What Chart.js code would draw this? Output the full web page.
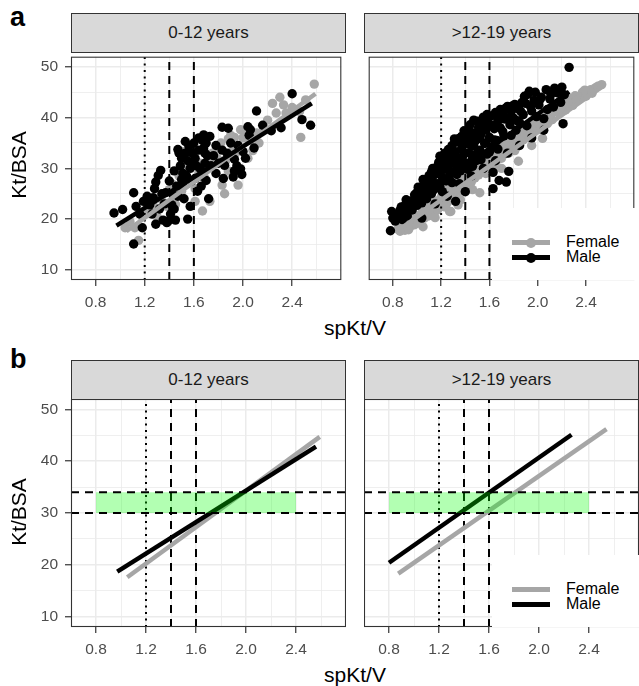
<!DOCTYPE html>
<html>
<head>
<meta charset="utf-8">
<script src="https://cdn.jsdelivr.net/npm/chart.js@4.4.1/dist/chart.umd.min.js"></script>
<style>
  body { margin: 0; width: 639px; height: 686px; overflow: hidden; background: #fff; position: relative;
         font-family: "Liberation Sans", Arial, sans-serif; }
  .abs { position: absolute; }
  .tag { position: absolute; font-weight: bold; font-size: 27px; color: #000; }
  .strip { position: absolute; width: 275px; height: 40px; background: #d9d9d9; border: 1px solid #333;
           box-sizing: border-box; text-align: center; line-height: 38px; font-size: 17px; color: #1a1a1a; }
  .xtitle { position: absolute; left: 71px; width: 568px; text-align: center; font-size: 21px; color: #000; }
  .ytitle { position: absolute; font-size: 21px; color: #000; width: 120px; text-align: center;
            transform: rotate(-90deg); }
  .legend { position: absolute; left: 492px; width: 147px; height: 72px; background: #fff; }
  .key { position: absolute; left: 20px; width: 38px; height: 5px; }
  .dot { position: absolute; left: 14px; top: -2.5px; width: 10px; height: 10px; border-radius: 50%; }
  .lab { position: absolute; left: 74px; font-size: 16px; color: #000; line-height: 16px; }
</style>
</head>
<body>

<div class="tag" style="left:10px; top:2px;">a</div>
<div class="tag" style="left:10px; top:344px;">b</div>

<div class="strip" style="left:71px; top:13px;">0-12 years</div>
<div class="strip" style="left:364px; top:13px;">&gt;12-19 years</div>
<div class="strip" style="left:71px; top:360px;">0-12 years</div>
<div class="strip" style="left:364px; top:360px;">&gt;12-19 years</div>

<canvas id="a1" class="abs" width="346" height="258" style="left:0; top:52px;"></canvas>
<canvas id="a2" class="abs" width="275" height="258" style="left:364px; top:52px;"></canvas>
<canvas id="b1" class="abs" width="346" height="258" style="left:0; top:399px;"></canvas>
<canvas id="b2" class="abs" width="275" height="258" style="left:364px; top:399px;"></canvas>

<div class="ytitle" style="left:-41px; top:153px;">Kt/BSA</div>
<div class="ytitle" style="left:-41px; top:500px;">Kt/BSA</div>
<div class="xtitle" style="top:316px;">spKt/V</div>
<div class="xtitle" style="top:663px;">spKt/V</div>

<div class="legend" style="top:208px;">
  <div class="key" style="top:32px; background:#a6a6a6;"><div class="dot" style="background:#a6a6a6;"></div></div>
  <div class="lab" style="top:26px;">Female</div>
  <div class="key" style="top:47px; background:#000;"><div class="dot" style="background:#000;"></div></div>
  <div class="lab" style="top:41px;">Male</div>
</div>
<div class="legend" style="top:555px;">
  <div class="key" style="top:32px; background:#a6a6a6;"></div>
  <div class="lab" style="top:26px;">Female</div>
  <div class="key" style="top:47px; background:#000;"></div>
  <div class="lab" style="top:41px;">Male</div>
</div>

<script>
// axis setup
const xMin = 0.6, xMax = 2.8, yMin = 8, yMax = 52;
const xGridLines = [0.8, 1.0, 1.2, 1.4, 1.6, 1.8, 2.0, 2.2, 2.4, 2.6];
const xMajor = [0.8, 1.2, 1.6, 2.0, 2.4];
const yGridLines = [10, 15, 20, 25, 30, 35, 40, 45, 50];
const yMajor = [10, 20, 30, 40, 50];

// reference lines and target band
const dottedX = [1.2];
const dashedX = [1.4, 1.6];
const bandY = [30, 34];
const bandX = [0.8, 2.4];

// fitted lines [x, y] end points
const fitChildMale = [[0.97, 18.7], [2.56, 42.8]];
const fitChildFemale = [[1.05, 17.6], [2.59, 44.7]];
const fitTeenMale = [[0.8, 20.4], [2.26, 45.1]];
const fitTeenFemale = [[0.874, 18.3], [2.54, 46.2]];

// observations 0-12 years
const childMale = [[0.95,21.2],[1.02,21.9],[1.11,25.2],[1.11,15.1],[1.13,22.5],[1.16,21.0],[1.18,18.3],[1.19,23.5],
  [1.21,23.5],[1.24,22.8],[1.26,21.0],[1.27,24.2],[1.29,19.0],[1.29,27.3],[1.31,28.6],[1.33,29.6],[1.34,25.0],
  [1.35,19.8],[1.37,25.2],[1.38,19.3],[1.39,19.6],[1.41,21.0],[1.42,22.8],[1.44,22.0],[1.45,19.8],[1.46,26.5],
  [1.47,33.7],[1.48,33.0],[1.49,30.5],[1.50,32.0],[1.51,29.0],[1.51,26.5],[1.52,24.0],[1.53,35.3],[1.55,31.5],
  [1.56,34.3],[1.58,27.5],[1.59,33.0],[1.59,31.0],[1.61,32.0],[1.61,28.0],[1.63,25.5],[1.64,33.6],[1.65,30.0],
  [1.67,35.5],[1.68,36.6],[1.69,33.0],[1.69,31.0],[1.70,35.0],[1.70,27.6],[1.72,24.0],[1.73,36.3],[1.76,32.5],
  [1.83,33.6],[1.83,38.1],[1.85,30.6],[1.88,37.9],[1.93,31.8],[1.93,29.5],[1.92,28.3],[1.98,29.9],[2.00,33.3],
  [2.02,32.0],[2.04,38.2],[2.06,37.6],[2.11,41.3],[2.23,37.4],[2.31,38.0],[2.40,44.7],[2.48,39.6],[2.55,38.5],
  [1.96,34.5],[1.78,29.0],[1.66,26.5],[1.57,22.5],[1.43,24.8],[1.55,20.0],
  [1.22,24.5],[1.28,26.0],[1.32,22.0],[1.36,23.0],[1.40,27.5],[1.44,29.5],[1.47,24.5],[1.50,27.8],[1.53,33.0],
  [1.54,28.5],[1.57,30.0],[1.60,35.0],[1.62,30.5],[1.64,36.0],[1.66,28.5],[1.68,34.0],[1.71,32.5],[1.74,30.5],
  [1.78,34.5],[1.80,31.0],[1.87,33.0],[1.90,35.0],[1.95,30.5],[2.05,36.5],[2.09,34.0],[2.16,38.5],[1.99,28.8],
  [1.84,28.0]];
const childFemale = [[1.04,18.3],[1.15,15.8],[1.12,18.3],[1.08,19.5],[1.22,22.0],[1.27,22.6],[1.30,20.5],[1.35,23.3],
  [1.40,25.8],[1.45,25.8],[1.45,22.9],[1.48,28.5],[1.51,29.7],[1.53,31.5],[1.51,33.3],[1.55,27.0],[1.59,33.0],
  [1.61,26.0],[1.61,23.5],[1.64,29.0],[1.67,21.6],[1.67,29.7],[1.70,31.0],[1.72,31.5],[1.73,23.5],[1.75,33.0],
  [1.77,31.0],[1.80,34.0],[1.83,26.7],[1.85,25.0],[1.88,29.5],[1.88,35.8],[1.88,32.8],[1.93,36.1],[1.96,26.7],
  [1.98,37.6],[2.02,36.5],[2.04,32.0],[2.08,33.5],[2.13,35.0],[2.17,37.6],[2.24,42.8],[2.27,40.9],[2.30,44.0],
  [2.35,40.9],[2.40,42.0],[2.46,41.2],[2.47,36.1],[2.51,43.5],[2.58,46.6],[1.62,33.5],[1.57,30.5],[1.92,34.0],
  [2.00,36.0],
  [1.18,20.5],[1.25,21.0],[1.33,24.5],[1.38,22.5],[1.42,27.0],[1.50,25.5],[1.54,28.5],[1.58,27.5],[1.65,31.0],
  [1.69,28.0],[1.74,30.5],[1.79,32.0],[1.82,35.0],[1.86,31.5],[1.90,36.5],[1.94,33.0],[2.06,35.5],[2.11,37.0],
  [2.20,39.5],[2.33,42.5]];

// observations >12-19 years
const teenMale = [[0.78,17.7],[0.79,21.5],[0.80,20.2],[0.82,19.6],[0.84,21.0],[0.85,20.3],[0.86,21.8],[0.88,19.9],
  [0.89,22.5],[0.90,21.2],[0.92,20.6],[0.93,22.9],[0.95,23.6],[0.96,21.8],[0.97,23.5],[0.98,24.8],[1.00,22.7],
  [1.00,25.3],[1.02,24.1],[1.03,26.0],[1.04,23.2],[1.05,25.4],[1.06,27.2],[1.07,24.6],[1.08,26.3],[1.09,28.0],
  [1.10,25.1],[1.10,28.6],[1.11,26.8],[1.12,29.3],[1.13,27.4],[1.14,25.8],[1.15,28.8],[1.16,30.2],[1.17,27.0],
  [1.18,31.2],[1.18,29.1],[1.19,26.4],[1.20,30.5],[1.21,28.2],[1.22,32.1],[1.23,29.8],[1.24,27.5],[1.25,31.4],
  [1.26,33.7],[1.26,30.0],[1.27,28.6],[1.28,32.6],[1.29,34.5],[1.30,31.1],[1.31,29.4],[1.32,33.3],[1.33,35.2],
  [1.34,31.8],[1.35,30.2],[1.36,36.0],[1.37,33.9],[1.37,36.3],[1.38,32.4],[1.39,34.8],[1.40,25.4],[1.40,37.2],
  [1.41,31.0],[1.42,35.6],[1.43,33.1],[1.44,38.6],[1.45,36.2],[1.46,32.0],[1.47,39.5],[1.47,34.4],[1.48,37.0],
  [1.49,31.5],[1.50,35.8],[1.51,38.1],[1.52,33.6],[1.53,36.7],[1.54,39.2],[1.55,40.1],[1.56,34.9],[1.57,37.6],
  [1.58,32.8],[1.59,38.9],[1.60,36.1],[1.61,40.3],[1.62,34.2],[1.63,26.0],[1.63,29.2],[1.64,37.8],[1.65,41.0],
  [1.66,35.5],[1.67,39.4],[1.68,27.6],[1.69,38.0],[1.70,41.5],[1.71,40.8],[1.72,36.4],[1.73,39.7],[1.74,27.3],
  [1.75,42.2],[1.76,29.4],[1.77,38.6],[1.78,41.2],[1.79,42.3],[1.80,39.9],[1.82,37.5],[1.83,41.8],[1.84,42.1],
  [1.85,39.0],[1.87,43.0],[1.88,40.6],[1.90,42.8],[1.91,38.4],[1.92,44.6],[1.93,45.2],[1.95,41.3],[1.97,43.4],
  [1.99,40.2],[2.01,42.5],[2.03,44.0],[2.05,39.8],[2.08,41.6],[2.10,43.7],[2.13,42.1],[2.16,44.9],[2.16,45.2],
  [2.19,43.0],[2.21,38.8],[2.22,44.5],[2.26,49.9],[1.04,20.2],[1.32,23.5],[1.15,23.0],[1.25,24.5],[1.35,27.0],
  [1.45,28.5],[1.55,30.0],[1.65,31.5],[1.85,34.5],[1.95,36.0],[2.05,37.5],[1.75,33.0],
  [0.83,20.8],[0.87,22.4],[0.91,23.8],[0.94,22.0],[0.99,23.9],[1.01,26.3],[1.05,27.8],[1.08,24.0],[1.12,25.0],
  [1.13,30.0],[1.16,26.2],[1.19,32.4],[1.21,25.4],[1.23,33.0],[1.27,31.5],[1.29,27.2],[1.31,35.8],[1.33,28.8],
  [1.34,35.8],[1.36,29.5],[1.38,30.8],[1.39,37.4],[1.42,29.8],[1.43,37.8],[1.44,34.7],[1.46,30.4],[1.48,35.3],
  [1.50,33.0],[1.50,39.3],[1.52,36.0],[1.53,31.7],[1.55,38.0],[1.57,35.0],[1.58,40.6],[1.60,33.2],[1.62,38.5],
  [1.64,35.6],[1.66,40.5],[1.67,33.8],[1.69,41.6],[1.71,37.3],[1.73,41.8],[1.76,40.0],[1.78,36.5],[1.81,42.6],
  [1.83,39.4],[1.86,41.2],[1.89,44.2],[1.94,42.2],[1.98,45.0],[2.02,43.6],[2.07,45.5],[2.11,44.6],[2.14,45.8],
  [2.20,46.0]];
const teenFemale = [[0.84,18.0],[0.86,17.6],[0.88,18.9],[0.90,17.8],[0.92,19.3],[0.94,18.4],[0.96,19.8],[0.98,18.9],
  [1.00,20.6],[1.02,19.6],[1.04,21.3],[1.06,20.2],[1.08,22.0],[1.10,21.0],[1.12,22.8],[1.14,21.7],[1.16,23.6],
  [1.18,22.4],[1.20,24.3],[1.22,23.0],[1.24,25.2],[1.25,23.2],[1.27,21.5],[1.28,24.8],[1.30,26.0],[1.31,24.2],
  [1.33,26.6],[1.34,22.8],[1.35,25.5],[1.37,27.4],[1.38,26.1],[1.40,28.0],[1.41,26.3],[1.43,28.6],[1.44,29.2],
  [1.45,27.3],[1.47,29.6],[1.48,28.1],[1.50,30.3],[1.51,28.7],[1.52,25.2],[1.53,31.0],[1.55,29.4],[1.56,31.6],
  [1.58,30.1],[1.59,32.2],[1.60,30.6],[1.62,32.8],[1.63,31.0],[1.65,33.2],[1.66,31.5],[1.68,34.0],[1.69,32.2],
  [1.71,34.5],[1.72,32.8],[1.74,35.1],[1.75,33.4],[1.77,35.7],[1.78,34.0],[1.80,36.3],[1.81,33.5],[1.83,36.9],
  [1.84,31.4],[1.86,37.4],[1.88,35.6],[1.90,38.1],[1.92,36.2],[1.94,38.8],[1.96,37.0],[1.98,39.4],[2.00,37.6],
  [2.02,40.0],[2.04,35.9],[2.06,40.6],[2.08,38.8],[2.10,41.3],[2.12,39.6],[2.15,42.0],[2.18,40.8],[2.20,43.0],
  [2.23,41.5],[2.26,43.8],[2.29,42.4],[2.31,44.3],[2.34,43.6],[2.37,45.0],[2.40,44.2],[2.44,45.5],[2.48,45.9],
  [2.53,46.5],[1.28,21.5],[1.05,18.5],[0.86,18.3],[1.15,20.3],[1.36,23.8],[1.46,25.8],[1.70,30.0],[1.95,34.5],
  [0.89,19.6],[0.93,17.9],[0.97,20.5],[1.01,19.2],[1.05,21.8],[1.09,20.6],[1.13,23.0],[1.17,21.8],[1.21,24.8],
  [1.23,22.4],[1.26,25.8],[1.29,23.8],[1.32,27.0],[1.36,26.8],[1.39,25.6],[1.42,29.0],[1.46,28.4],[1.49,29.0],
  [1.54,30.5],[1.57,29.0],[1.61,31.8],[1.64,30.0],[1.67,33.5],[1.70,32.0],[1.73,34.5],[1.76,33.0],[1.79,36.0],
  [1.82,34.8],[1.85,36.0],[1.89,37.0],[1.93,37.8],[1.97,38.2],[2.01,38.8],[2.05,39.8],[2.09,40.2],[2.14,41.2],
  [2.19,41.8],[2.25,42.8],[2.32,43.4],[2.39,45.4],[2.45,44.8],[2.50,46.2]];

const GREY = '#a6a6a6';
Chart.defaults.font.family = '"Liberation Sans", Arial, sans-serif';

const toXY = arr => arr.map(p => ({ x: p[0], y: p[1] }));

// draws the dark panel border on top of everything
const panelFrame = {
  id: 'panelFrame',
  afterDraw(chart) {
    const a = chart.chartArea, c = chart.ctx;
    c.save();
    c.strokeStyle = '#333';
    c.lineWidth = 1.1;
    c.strokeRect(a.left + 0.5, a.top + 0.5, a.right - a.left - 1, a.bottom - a.top - 1);
    c.restore();
  }
};

function makePanel(id, male, female, fitMale, fitFemale, showY, withPoints) {
  const ds = [];
  if (withPoints) {
    ds.push({ data: toXY(female), backgroundColor: GREY, pointRadius: 4.7, pointBorderWidth: 0, order: 6 });
    ds.push({ data: toXY(male), backgroundColor: '#000', pointRadius: 4.7, pointBorderWidth: 0, order: 5 });
  }
  dottedX.forEach(v => ds.push({ data: [{ x: v, y: yMin }, { x: v, y: yMax }], showLine: true, pointRadius: 0,
    borderColor: '#000', borderWidth: 2, borderDash: [2, 4.5], order: 4 }));
  dashedX.forEach(v => ds.push({ data: [{ x: v, y: yMin }, { x: v, y: yMax }], showLine: true, pointRadius: 0,
    borderColor: '#000', borderWidth: 2, borderDash: [8, 6], order: 4 }));
  ds.push({ data: toXY(fitFemale), showLine: true, pointRadius: 0, borderColor: GREY, borderWidth: 4.5, order: 3 });
  ds.push({ data: toXY(fitMale), showLine: true, pointRadius: 0, borderColor: '#000', borderWidth: 4.5, order: 2 });
  if (!withPoints) {
    ds.push({ data: [{ x: bandX[0], y: bandY[0] }, { x: bandX[1], y: bandY[0] }], showLine: true, pointRadius: 0,
      borderWidth: 0, fill: { value: bandY[1] }, backgroundColor: 'rgba(0,255,0,0.3)', order: 1 });
    bandY.forEach(v => ds.push({ data: [{ x: xMin, y: v }, { x: xMax, y: v }], showLine: true, pointRadius: 0,
      borderColor: '#000', borderWidth: 1.8, borderDash: [8, 6], order: 0 }));
  }

  new Chart(document.getElementById(id), {
    type: 'scatter',
    data: { datasets: ds },
    options: {
      responsive: false,
      animation: false,
      layout: { padding: 0 },
      plugins: { legend: { display: false }, tooltip: { enabled: false } },
      scales: {
        x: {
          type: 'linear', min: xMin, max: xMax,
          afterBuildTicks: s => { s.ticks = xGridLines.map(v => ({ value: v })); },
          afterFit: s => { s.height = 30; s.paddingLeft = 0; s.paddingRight = 0; s.paddingTop = 0; s.paddingBottom = 0; },
          border: { display: false },
          grid: {
            color: '#ebebeb',
            lineWidth: c => xMajor.includes(c.tick.value) ? 1.5 : 0.8,
            tickColor: c => xMajor.includes(c.tick.value) ? '#333' : 'rgba(0,0,0,0)',
            tickLength: 6, tickWidth: 1.2
          },
          ticks: {
            autoSkip: false, maxRotation: 0, padding: 7, color: '#4d4d4d', font: { size: 15.5 },
            callback: v => xMajor.includes(v) ? v.toFixed(1) : ''
          }
        },
        y: {
          type: 'linear', min: yMin, max: yMax,
          afterBuildTicks: s => { s.ticks = yGridLines.map(v => ({ value: v })); },
          afterFit: s => { s.width = showY ? 71 : 0; s.paddingTop = 0; s.paddingBottom = 0; s.paddingLeft = 0; s.paddingRight = 0; },
          border: { display: false },
          grid: {
            color: '#ebebeb',
            drawTicks: showY,
            lineWidth: c => yMajor.includes(c.tick.value) ? 1.5 : 0.8,
            tickColor: c => yMajor.includes(c.tick.value) ? '#333' : 'rgba(0,0,0,0)',
            tickLength: 6, tickWidth: 1.2
          },
          ticks: {
            display: showY, autoSkip: false, padding: 7, color: '#4d4d4d', font: { size: 15.5 },
            callback: v => yMajor.includes(v) ? String(v) : ''
          }
        }
      }
    },
    plugins: [panelFrame]
  });
}

makePanel('a1', childMale, childFemale, fitChildMale, fitChildFemale, true, true);
makePanel('a2', teenMale, teenFemale, fitTeenMale, fitTeenFemale, false, true);
makePanel('b1', childMale, childFemale, fitChildMale, fitChildFemale, true, false);
makePanel('b2', teenMale, teenFemale, fitTeenMale, fitTeenFemale, false, false);
</script>
</body>
</html>
